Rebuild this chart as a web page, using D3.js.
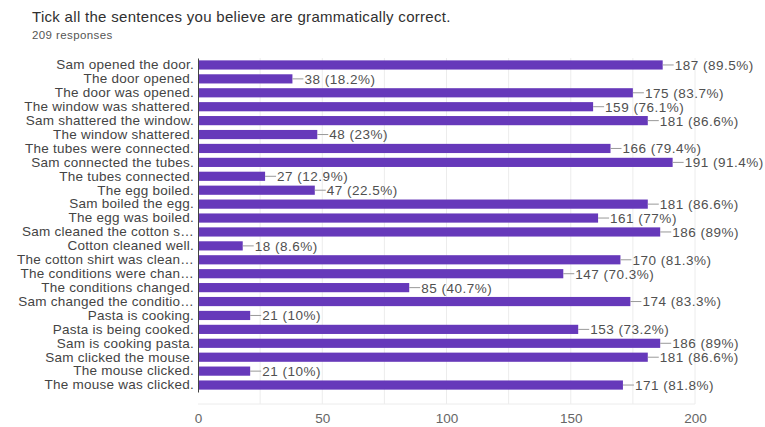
<!DOCTYPE html>
<html lang="en">
<head>
  <meta charset="utf-8">
  <title>Grammaticality survey</title>
  <script src="https://d3js.org/d3.v7.min.js"></script>
  <style>
    body { margin: 0; background: #fff; }
    text { font-family: "Liberation Sans", Arial, sans-serif; }
  </style>
</head>
<body>
<div id="chart"></div>
<script>
// sentences, counts and percent labels
var sentences = ["Sam opened the door.", "The door opened.", "The door was opened.",
  "The window was shattered.", "Sam shattered the window.", "The window shattered.",
  "The tubes were connected.", "Sam connected the tubes.", "The tubes connected.",
  "The egg boiled.", "Sam boiled the egg.", "The egg was boiled.",
  "Sam cleaned the cotton s\u2026", "Cotton cleaned well.", "The cotton shirt was clean\u2026",
  "The conditions were chan\u2026", "The conditions changed.", "Sam changed the conditio\u2026",
  "Pasta is cooking.", "Pasta is being cooked.", "Sam is cooking pasta.",
  "Sam clicked the mouse.", "The mouse clicked.", "The mouse was clicked."];
var counts = [187, 38, 175, 159, 181, 48, 166, 191, 27, 47, 181, 161,
  186, 18, 170, 147, 85, 174, 21, 153, 186, 181, 21, 171];
var percents = ["89.5%", "18.2%", "83.7%", "76.1%", "86.6%", "23%", "79.4%", "91.4%",
  "12.9%", "22.5%", "86.6%", "77%", "89%", "8.6%", "81.3%", "70.3%", "40.7%", "83.3%",
  "10%", "73.2%", "89%", "86.6%", "10%", "81.8%"];
var xTicks = [0, 50, 100, 150, 200];
var gridTicks = [25, 50, 75, 100, 125, 150, 175, 200];

var W = 765, H = 427;
var svg = d3.select("#chart").append("svg")
  .attr("width", W).attr("height", H);

svg.append("text")
  .attr("x", 32).attr("y", 22)
  .attr("font-size", 15).attr("letter-spacing", 0.3).attr("fill", "#303030")
  .text("Tick all the sentences you believe are grammatically correct.");
svg.append("text")
  .attr("x", 32).attr("y", 39)
  .attr("font-size", 11.5).attr("letter-spacing", 0.4).attr("fill", "#555")
  .text("209 responses");

var rows = sentences.map(function(s, i) {
  return { label: s, value: counts[i], pct: percents[i] };
});

var x = d3.scaleLinear().domain([0, 200]).range([198, 695]);
var y = d3.scaleBand().domain(sentences).range([58, 392]).paddingInner(0.34).paddingOuter(0.17);

// faint vertical grid
svg.append("g").selectAll("line")
  .data(gridTicks).enter().append("line")
  .attr("x1", function(d) { return x(d); }).attr("x2", function(d) { return x(d); })
  .attr("y1", 58).attr("y2", 404)
  .attr("stroke", "#ececec").attr("stroke-width", 1);
svg.append("line")
  .attr("x1", x(0)).attr("x2", x(200))
  .attr("y1", 404).attr("y2", 404)
  .attr("stroke", "#ececec");

// bars
svg.append("g").selectAll("rect")
  .data(rows).enter().append("rect")
  .attr("x", x(0))
  .attr("y", function(d) { return y(d.label); })
  .attr("width", function(d) { return x(d.value) - x(0); })
  .attr("height", y.bandwidth())
  .attr("fill", "#6639ba");

// leader lines + value labels
var lab = svg.append("g").selectAll("g")
  .data(rows).enter().append("g")
  .attr("transform", function(d) {
    return "translate(" + x(d.value) + "," + (y(d.label) + y.bandwidth() / 2) + ")";
  });
lab.append("line")
  .attr("x1", 0).attr("x2", 11)
  .attr("stroke", "#999").attr("stroke-width", 1);
lab.append("text")
  .attr("x", 12).attr("dy", "0.36em")
  .attr("font-size", 13.5).attr("letter-spacing", 0.5).attr("fill", "#505050")
  .text(function(d) { return d.value + " (" + d.pct + ")"; });

// y axis (category labels)
var yAxis = svg.append("g")
  .attr("transform", "translate(" + x(0) + ",0)")
  .call(d3.axisLeft(y).tickSize(0).tickPadding(4));
yAxis.select(".domain").attr("stroke", "#444");
yAxis.selectAll("text")
  .attr("font-size", 13.5).attr("letter-spacing", 0.25).attr("fill", "#444")
  .style("font-family", "'Liberation Sans', Arial, sans-serif");

// x axis labels
var xAxis = svg.append("g")
  .attr("transform", "translate(0,407)")
  .call(d3.axisBottom(x).tickValues(xTicks).tickSize(0).tickPadding(6));
xAxis.select(".domain").remove();
xAxis.selectAll("text")
  .attr("font-size", 13.5).attr("fill", "#666")
  .style("font-family", "'Liberation Sans', Arial, sans-serif");
</script>
</body>
</html>
